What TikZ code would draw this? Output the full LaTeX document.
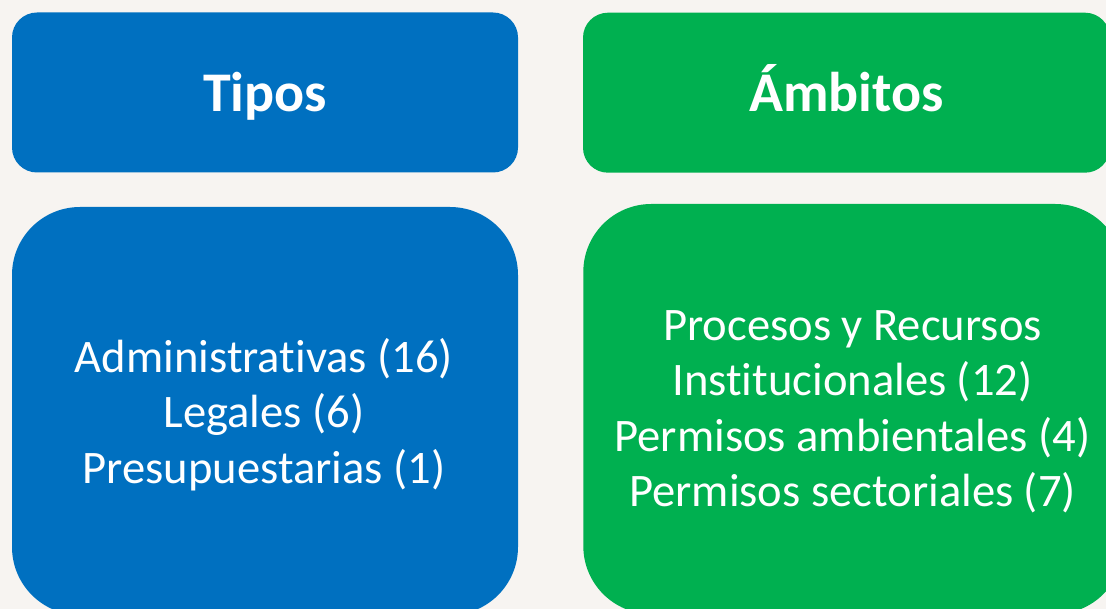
\documentclass[tikz,border=0pt]{standalone}
\usepackage{fontspec}
\setmainfont{Carlito}[Ligatures=NoCommon]
\usepackage{xcolor}
\usepackage{tikz}
\usetikzlibrary{positioning}
\definecolor{latar}{HTML}{F7F4F1}
\definecolor{biru}{HTML}{0070C0}
\definecolor{hijau}{HTML}{00B050}
\tikzset{
    kotak/.style={rectangle, inner sep=0pt, text=white, align=center},
    judul/.style={kotak, minimum height=160pt, rounded corners=25pt, text height=38pt, text depth=0pt, font=\fontsize{56}{67}\selectfont\bfseries},
    isi/.style={kotak, rounded corners=68pt},
    teks/.style={kotak, font=\fontsize{46.6}{55.5}\selectfont},
}

\begin{document}
\begin{tikzpicture}[x=1pt,y=-1pt]
        %LATAR
        \fill[latar] (0,0) rectangle (1106,609);
        \useasboundingbox (0,0) rectangle (1106,609);
        \clip (0,0) rectangle (1106,609);
        %KOORDINAT
        \coordinate (A) at (265,92.5);
        \coordinate (B) at (846.5,92.7);
        \coordinate (C) at (265,411);
        \coordinate (D) at (853.3,409);
        %KOTAK ATAS
        \node[judul, fill=biru, minimum width=506pt] (tipos) at (A) {Tipos};
        \node[judul, fill=hijau, minimum width=527pt] (ambitos) at (B) {Ámbitos};
        %KOTAK BAWAH
        \node[isi, fill=biru, minimum width=506pt, minimum height=408pt] (tipos-isi) at (C) {};
        \node[isi, fill=hijau, minimum width=540pt, minimum height=410pt] (ambitos-isi) at (D) {};
        %TEKS
        \node[teks] (tipos-teks) at (264,414.3)
            {Administrativas (16)\\ Legales (6)\\ Presupuestarias (1)};
        \node[teks] (ambitos-teks) at (852.5,411.9)
            {Procesos y Recursos\\ Institucionales (12)\\ Permisos ambientales (4)\\ Permisos sectoriales (7)};
\end{tikzpicture}
\end{document}
